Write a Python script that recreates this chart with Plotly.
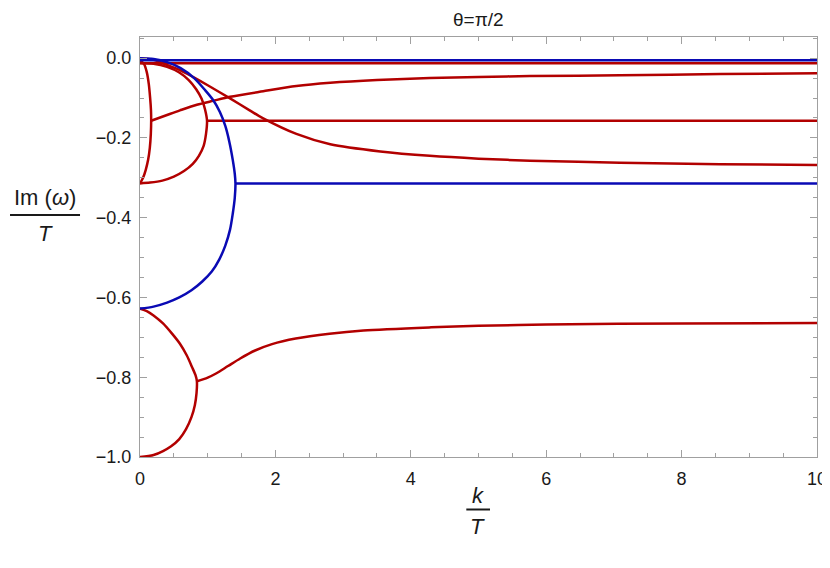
import plotly.graph_objects as go

# ---------------- data ----------------
x_ticks = [0, 2, 4, 6, 8, 10]
y_ticks = [0.0, -0.2, -0.4, -0.6, -0.8, -1.0]
y_tick_text = ["0.0", "\u22120.2", "\u22120.4", "\u22120.6", "\u22120.8", "\u22121.0"]

# red modes
red_top_k = [0.0, 10.0]
red_top_y = [-0.013, -0.013]

red_narrow_k = [0.0, 0.06, 0.10, 0.13, 0.15, 0.162, 0.165, 0.16, 0.145, 0.12, 0.085, 0.045, 0.0]
red_narrow_y = [-0.005, -0.015, -0.035, -0.065, -0.100, -0.130, -0.157, -0.190, -0.225, -0.255, -0.280, -0.300, -0.314]

red_rise_k = [0.165, 0.44, 0.59, 0.84, 1.08, 1.33, 1.82, 2.31, 2.81, 3.5, 4.28, 5.0, 5.76, 7.09, 8.57, 10.0]
red_rise_y = [-0.157, -0.140, -0.131, -0.117, -0.107, -0.097, -0.083, -0.070, -0.062, -0.055, -0.050, -0.047, -0.045, -0.043, -0.040, -0.038]

red_fall_k = [0.0, 0.2, 0.34, 0.59, 0.78, 1.0, 1.33, 1.62, 1.82, 2.31, 2.81, 3.55, 4.28, 5.0, 5.76, 7.09, 8.57, 10.0]
red_fall_y = [0.0, -0.004, -0.013, -0.030, -0.047, -0.068, -0.101, -0.131, -0.151, -0.190, -0.216, -0.234, -0.245, -0.252, -0.257, -0.262, -0.266, -0.268]

red_arc_k = [0.0, 0.2, 0.4, 0.58, 0.72, 0.83, 0.91, 0.96, 0.99, 0.975, 0.94, 0.87, 0.78, 0.65, 0.50, 0.33, 0.15, 0.0]
red_arc_y = [-0.012, -0.014, -0.022, -0.036, -0.055, -0.078, -0.102, -0.128, -0.157, -0.190, -0.220, -0.245, -0.265, -0.283, -0.297, -0.307, -0.312, -0.314]

red_mid_k = [0.99, 10.0]
red_mid_y = [-0.157, -0.157]

red_low_k = [0.0, 0.10, 0.20, 0.34, 0.47, 0.59, 0.69, 0.77, 0.82, 0.84, 0.835, 0.81, 0.76, 0.68, 0.58, 0.46, 0.34, 0.20, 0.0]
red_low_y = [-0.628, -0.634, -0.645, -0.665, -0.690, -0.716, -0.745, -0.775, -0.795, -0.810, -0.840, -0.870, -0.900, -0.930, -0.955, -0.973, -0.985, -0.995, -1.0]

red_low_rise_k = [0.84, 1.0, 1.13, 1.30, 1.48, 1.70, 1.95, 2.30, 2.80, 3.30, 4.30, 5.0, 6.0, 8.0, 10.0]
red_low_rise_y = [-0.810, -0.801, -0.790, -0.772, -0.753, -0.733, -0.717, -0.703, -0.691, -0.683, -0.675, -0.671, -0.668, -0.665, -0.664]

# blue modes
blue_top_k = [0.0, 10.0]
blue_top_y = [-0.005, -0.005]

blue_arc_k = [0.0, 0.2, 0.4, 0.6, 0.8, 0.95, 1.08, 1.18, 1.26, 1.32, 1.37, 1.40, 1.41,
              1.40, 1.37, 1.33, 1.26, 1.17, 1.06, 0.92, 0.76, 0.58, 0.40, 0.20, 0.0]
blue_arc_y = [0.0, -0.002, -0.010, -0.025, -0.050, -0.078, -0.105, -0.135, -0.170, -0.210, -0.255, -0.290, -0.314,
              -0.350, -0.390, -0.430, -0.470, -0.505, -0.535, -0.560, -0.582, -0.600, -0.613, -0.623, -0.628]

blue_mid_k = [1.41, 10.0]
blue_mid_y = [-0.314, -0.314]

RED = "#b20000"
BLUE = "#0a0ab4"

fig = go.Figure()

red_sets = [(red_top_k, red_top_y), (red_narrow_k, red_narrow_y), (red_rise_k, red_rise_y),
            (red_fall_k, red_fall_y), (red_arc_k, red_arc_y), (red_mid_k, red_mid_y),
            (red_low_k, red_low_y), (red_low_rise_k, red_low_rise_y)]
blue_sets = [(blue_top_k, blue_top_y), (blue_arc_k, blue_arc_y), (blue_mid_k, blue_mid_y)]

for kk, yy in red_sets:
    fig.add_trace(go.Scatter(x=kk, y=yy, mode="lines",
                             line=dict(color=RED, width=2.5, shape="spline", smoothing=0.8),
                             showlegend=False, hoverinfo="skip"))
for kk, yy in blue_sets:
    fig.add_trace(go.Scatter(x=kk, y=yy, mode="lines",
                             line=dict(color=BLUE, width=2.5, shape="spline", smoothing=0.8),
                             showlegend=False, hoverinfo="skip"))

FRAME = "#a0a0a0"
FONTFAM = "Liberation Sans, Arial, sans-serif"
TICKFONT = dict(family=FONTFAM, size=18, color="#1a1a1a")

# page body adds an 8px margin, so the figure is 8px smaller on each side
fig.update_layout(
    width=822, height=560,
    margin=dict(l=132, r=13, t=29, b=111),
    paper_bgcolor="white", plot_bgcolor="white",
    xaxis=dict(range=[0, 10], tickvals=x_ticks, ticktext=[str(v) for v in x_ticks],
               automargin=False,
               showgrid=False, zeroline=False, showline=True, linecolor=FRAME, linewidth=1,
               mirror="ticks", ticks="inside", ticklen=7, tickcolor=FRAME, tickwidth=1,
               minor=dict(dtick=0.5, ticks="inside", ticklen=4, tickcolor=FRAME, showgrid=False),
               tickfont=TICKFONT, ticklabelstandoff=5),
    yaxis=dict(range=[-1.0, 0.053], tickvals=y_ticks, ticktext=y_tick_text,
               automargin=False,
               showgrid=False, zeroline=False, showline=True, linecolor=FRAME, linewidth=1,
               mirror="ticks", ticks="inside", ticklen=7, tickcolor=FRAME, tickwidth=1,
               minor=dict(dtick=0.05, ticks="inside", ticklen=4, tickcolor=FRAME, showgrid=False),
               tickfont=TICKFONT, ticklabelstandoff=4),
)

LABFONT = dict(family=FONTFAM, size=22, color="#1a1a1a")
# paper coords: plot area is 677 x 420 px, origin at its bottom-left
ann = [
    dict(text="\u03b8=\u03c0/2", x=0.5, y=1.069, yanchor="top", font=dict(family=FONTFAM, size=19, color="#1a1a1a")),
    dict(text="Im (<i>\u03c9</i>)", x=-0.140, y=0.619, yanchor="middle", font=LABFONT),
    dict(text="<i>T</i>", x=-0.140, y=0.533, yanchor="middle", font=LABFONT),
    dict(text="<i>k</i>", x=0.499, y=-0.092, yanchor="middle", font=LABFONT),
    dict(text="<i>T</i>", x=0.499, y=-0.165, yanchor="middle", font=LABFONT),
]
for a in ann:
    fig.add_annotation(xref="paper", yref="paper", showarrow=False, xanchor="center", borderpad=0, **a)

fig.add_shape(type="line", xref="paper", yref="paper", x0=-0.192, x1=-0.0886, y0=0.576, y1=0.576,
              line=dict(color="#1a1a1a", width=2))
fig.add_shape(type="line", xref="paper", yref="paper", x0=0.482, x1=0.517, y0=-0.125, y1=-0.125,
              line=dict(color="#1a1a1a", width=2))

fig.write_html("out.html")
